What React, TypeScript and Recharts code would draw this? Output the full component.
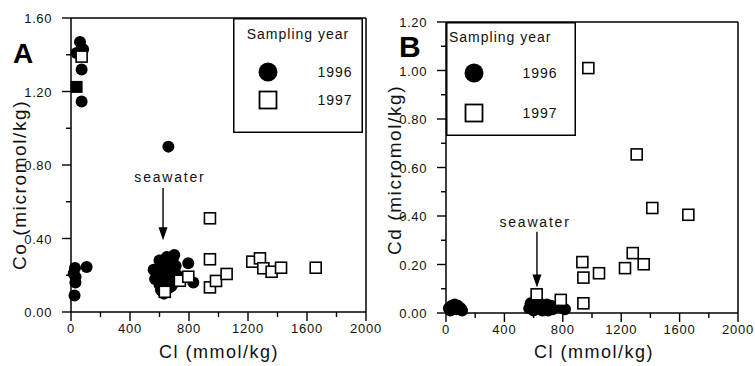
import { ScatterChart, Scatter, XAxis, YAxis, ReferenceLine, ReferenceDot, Legend } from 'recharts';

const FONT = '"Liberation Sans", Arial, Helvetica, sans-serif';

// axis ticks (every other tick gets a label)
const clTicks = [0, 200, 400, 600, 800, 1000, 1200, 1400, 1600, 1800, 2000];
const coTicks = [0, 0.2, 0.4, 0.6, 0.8, 1.0, 1.2, 1.4, 1.6];
const cdTicks = [0, 0.1, 0.2, 0.3, 0.4, 0.5, 0.6, 0.7, 0.8, 0.9, 1.0, 1.1, 1.2];

// Panel A: Co vs Cl
const coCl1996 = [
  61, 38, 82, 72, 72, 27, 106, 18, 31, 30, 24, 660,
  580, 590, 600, 610, 620, 630, 640, 650, 660, 670, 680, 690, 700, 710, 720,
  610, 630, 650, 600, 570, 640, 665, 690, 700, 680, 620, 560, 600, 795, 829,
];
const coVal1996 = [
  1.47, 1.41, 1.43, 1.32, 1.145, 0.24, 0.245, 0.21, 0.19, 0.16, 0.09, 0.9,
  0.22, 0.19, 0.15, 0.12, 0.25, 0.28, 0.21, 0.17, 0.13, 0.23, 0.27, 0.29, 0.31, 0.25, 0.2,
  0.2, 0.1, 0.3, 0.24, 0.18, 0.26, 0.19, 0.22, 0.16, 0.14, 0.16, 0.23, 0.28, 0.265, 0.16,
];
const coCl1997 = [72, 636, 738, 942, 942, 795, 942, 983, 1055, 1229, 1281, 1304, 1360, 1424, 1659];
const coVal1997 = [1.39, 0.11, 0.17, 0.51, 0.287, 0.192, 0.134, 0.169, 0.207, 0.274, 0.292, 0.238, 0.219, 0.241, 0.241];
// overlapping 1996/1997 point drawn as a filled square
const coClOverlap = [38];
const coValOverlap = [1.225];

// Panel B: Cd vs Cl
const cdCl1996 = [
  20, 40, 60, 80, 100, 30, 70, 110, 50,
  570, 590, 610, 630, 650, 670, 690, 710, 730, 600, 660, 720, 580, 640, 700, 800, 815,
];
const cdVal1996 = [
  0.02, 0.03, 0.035, 0.03, 0.02, 0.01, 0.015, 0.01, 0.025,
  0.02, 0.03, 0.035, 0.025, 0.03, 0.02, 0.035, 0.025, 0.015, 0.01, 0.01, 0.03, 0.04, 0.04, 0.01, 0.02, 0.015,
];
const cdCl1997 = [621, 786, 941, 941, 934, 1048, 1226, 1279, 1354, 975, 1306, 1413, 1660];
const cdVal1997 = [0.077, 0.054, 0.04, 0.146, 0.21, 0.164, 0.185, 0.247, 0.201, 1.01, 0.654, 0.433, 0.405];

const zip = (cl: number[], v: number[]) => cl.map((c, i) => ({ cl: c, v: v[i] }));

const Dot = (p: any) => <circle cx={p.cx} cy={p.cy} r={6} fill="#000" />;
const Box = (p: any) => (
  <rect x={p.cx - 5.5} y={p.cy - 5.5} width={11} height={11} fill="#fff" stroke="#000" strokeWidth={1.6} />
);
const FilledBox = (p: any) => <rect x={p.cx - 6} y={p.cy - 6} width={12} height={12} fill="#000" />;

const textStyle = { fontFamily: FONT, fill: '#111' };

function makeXTick() {
  return (props: any) => {
    const { x, y, payload } = props;
    const major = Math.round(payload.value / 200) % 2 === 0;
    return (
      <g>
        <line x1={x} y1={y} x2={x} y2={y + (major ? 9 : 5)} stroke="#000" strokeWidth={1.4} />
        {major && (
          <text x={x} y={y + 21} textAnchor="middle" fontSize={13} letterSpacing={0.8} style={textStyle}>
            {payload.value}
          </text>
        )}
      </g>
    );
  };
}

function makeYTick(step: number) {
  return (props: any) => {
    const { x, y, payload } = props;
    const major = Math.round(payload.value / step) % 2 === 0;
    return (
      <g>
        <line x1={x} y1={y} x2={x - (major ? 9 : 5)} y2={y} stroke="#000" strokeWidth={1.4} />
        {major && (
          <text x={x - 19} y={y + 5} textAnchor="end" fontSize={13} letterSpacing={0.6} style={textStyle}>
            {payload.value.toFixed(2)}
          </text>
        )}
      </g>
    );
  };
}

const Arrow = (p: any) => (
  <path d={`M ${p.cx} ${p.cy} L ${p.cx - 4.5} ${p.cy - 13} L ${p.cx + 4.5} ${p.cy - 13} Z`} fill="#000" />
);
const SeawaterText = (p: any) => (
  <text x={p.cx} y={p.cy + 5} textAnchor="middle" fontSize={14} letterSpacing={1.8} style={textStyle}>
    seawater
  </text>
);

function LegendBox({ payload, variant }: any) {
  const items = (payload || []).filter((e: any) => e.value === '1996' || e.value === '1997');
  const a = variant === 'A';
  const h = a ? 115 : 114;
  return (
    <svg width={130} height={h} style={{ display: 'block' }}>
      <rect x={0.75} y={0.75} width={128.5} height={h - 1.5} fill="#fff" stroke="#000" strokeWidth={1.5} />
      <text
        x={a ? 65 : 3}
        y={a ? 21 : 20}
        textAnchor={a ? 'middle' : 'start'}
        fontSize={14}
        letterSpacing={1}
        style={textStyle}
      >
        Sampling year
      </text>
      {items.map((e: any, i: number) => {
        const cy = a ? 54 + i * 28 : 51 + i * 40;
        const cx = a ? 35 : 28;
        return (
          <g key={e.value}>
            {e.value === '1996' ? (
              <circle cx={cx} cy={cy} r={9.5} fill="#000" />
            ) : (
              <rect x={cx - 8.5} y={cy - 8.5} width={17} height={17} fill="#fff" stroke="#000" strokeWidth={1.8} />
            )}
            <text x={a ? 102 : 94} y={cy + 5} textAnchor="middle" fontSize={14} letterSpacing={1} style={textStyle}>
              {e.value}
            </text>
          </g>
        );
      })}
    </svg>
  );
}

function axisTitles(yTitle: string, letter: string, letterX: number, letterY: number, letterSize: number, yCenter: number) {
  return () => (
    <g>
      <text
        x={19}
        y={yCenter}
        transform={`rotate(-90 19 ${yCenter})`}
        textAnchor="middle"
        dominantBaseline="central"
        fontSize={19}
        letterSpacing={1.6}
        style={textStyle}
      >
        {yTitle}
      </text>
      <text x={letterX} y={letterY} fontSize={letterSize} fontWeight="bold" style={{ fontFamily: FONT, fill: '#000' }}>
        {letter}
      </text>
    </g>
  );
}

const xTitle = () => (
  <text x={219} y={358} textAnchor="middle" fontSize={18} letterSpacing={1.5} style={textStyle}>
    Cl (mmol/kg)
  </text>
);

function PanelA() {
  return (
    <ScatterChart width={390} height={366} margin={{ top: 18, right: 24, bottom: 24, left: 21 }}>
      <XAxis
        type="number"
        dataKey="cl"
        domain={[0, 2000]}
        ticks={clTicks}
        interval={0}
        tickSize={0}
        tickMargin={0}
        tickLine={false}
        tick={makeXTick()}
        height={30}
        axisLine={{ stroke: '#000', strokeWidth: 1.5 }}
        label={xTitle}
      />
      <YAxis
        type="number"
        dataKey="v"
        domain={[0, 1.6]}
        ticks={coTicks}
        interval={0}
        tickSize={0}
        tickMargin={0}
        tickLine={false}
        tick={makeYTick(0.2)}
        width={50}
        axisLine={{ stroke: '#000', strokeWidth: 1.5 }}
        label={axisTitles('Co (micromol/kg)', 'A', 13, 63, 28, 185)}
      />
      <ReferenceLine y={1.6} stroke="#000" strokeWidth={1.5} />
      <ReferenceLine x={2000} stroke="#000" strokeWidth={1.5} />
      <Scatter name="1996" data={zip(coCl1996, coVal1996)} shape={Dot} isAnimationActive={false} />
      <Scatter name="overlap" legendType="none" data={zip(coClOverlap, coValOverlap)} shape={FilledBox} isAnimationActive={false} />
      <Scatter name="1997" data={zip(coCl1997, coVal1997)} shape={Box} isAnimationActive={false} />
      <ReferenceLine segment={[{ x: 624, y: 0.675 }, { x: 624, y: 0.45 }]} stroke="#000" strokeWidth={1.4} />
      <ReferenceDot x={624} y={0.39} shape={Arrow} />
      <ReferenceDot x={671} y={0.735} shape={SeawaterText} />
      <Legend
        layout="horizontal"
        verticalAlign="middle"
        align="center"
        wrapperStyle={{ left: 233, top: 18, width: 130, height: 115 }}
        content={(p: any) => <LegendBox {...p} variant="A" />}
      />
    </ScatterChart>
  );
}

function PanelB() {
  return (
    <ScatterChart width={380} height={366} margin={{ top: 22, right: 17, bottom: 23, left: 21 }}>
      <XAxis
        type="number"
        dataKey="cl"
        domain={[0, 2000]}
        ticks={clTicks}
        interval={0}
        tickSize={0}
        tickMargin={0}
        tickLine={false}
        tick={makeXTick()}
        height={30}
        axisLine={{ stroke: '#000', strokeWidth: 1.5 }}
        label={xTitle}
      />
      <YAxis
        type="number"
        dataKey="v"
        domain={[0, 1.2]}
        ticks={cdTicks}
        interval={0}
        tickSize={0}
        tickMargin={0}
        tickLine={false}
        tick={makeYTick(0.1)}
        width={50}
        axisLine={{ stroke: '#000', strokeWidth: 1.5 }}
        label={axisTitles('Cd (micromol/kg)', 'B', 24, 57, 30, 170)}
      />
      <ReferenceLine y={1.2} stroke="#000" strokeWidth={1.5} />
      <ReferenceLine x={2000} stroke="#000" strokeWidth={1.5} />
      <Scatter name="1996" data={zip(cdCl1996, cdVal1996)} shape={Dot} isAnimationActive={false} />
      <Scatter name="1997" data={zip(cdCl1997, cdVal1997)} shape={Box} isAnimationActive={false} />
      <ReferenceLine segment={[{ x: 623, y: 0.335 }, { x: 623, y: 0.15 }]} stroke="#000" strokeWidth={1.4} />
      <ReferenceDot x={623} y={0.105} shape={Arrow} />
      <ReferenceDot x={610} y={0.377} shape={SeawaterText} />
      <Legend
        layout="horizontal"
        verticalAlign="middle"
        align="center"
        wrapperStyle={{ left: 71, top: 22, width: 130, height: 114 }}
        content={(p: any) => <LegendBox {...p} variant="B" />}
      />
    </ScatterChart>
  );
}

export default function App() {
  return (
    <div style={{ position: 'absolute', left: 0, top: 0, width: 755, height: 366, background: '#fff' }}>
      <div style={{ position: 'absolute', left: 0, top: 0 }}>
        <PanelA />
      </div>
      <div style={{ position: 'absolute', left: 375, top: 0 }}>
        <PanelB />
      </div>
    </div>
  );
}
